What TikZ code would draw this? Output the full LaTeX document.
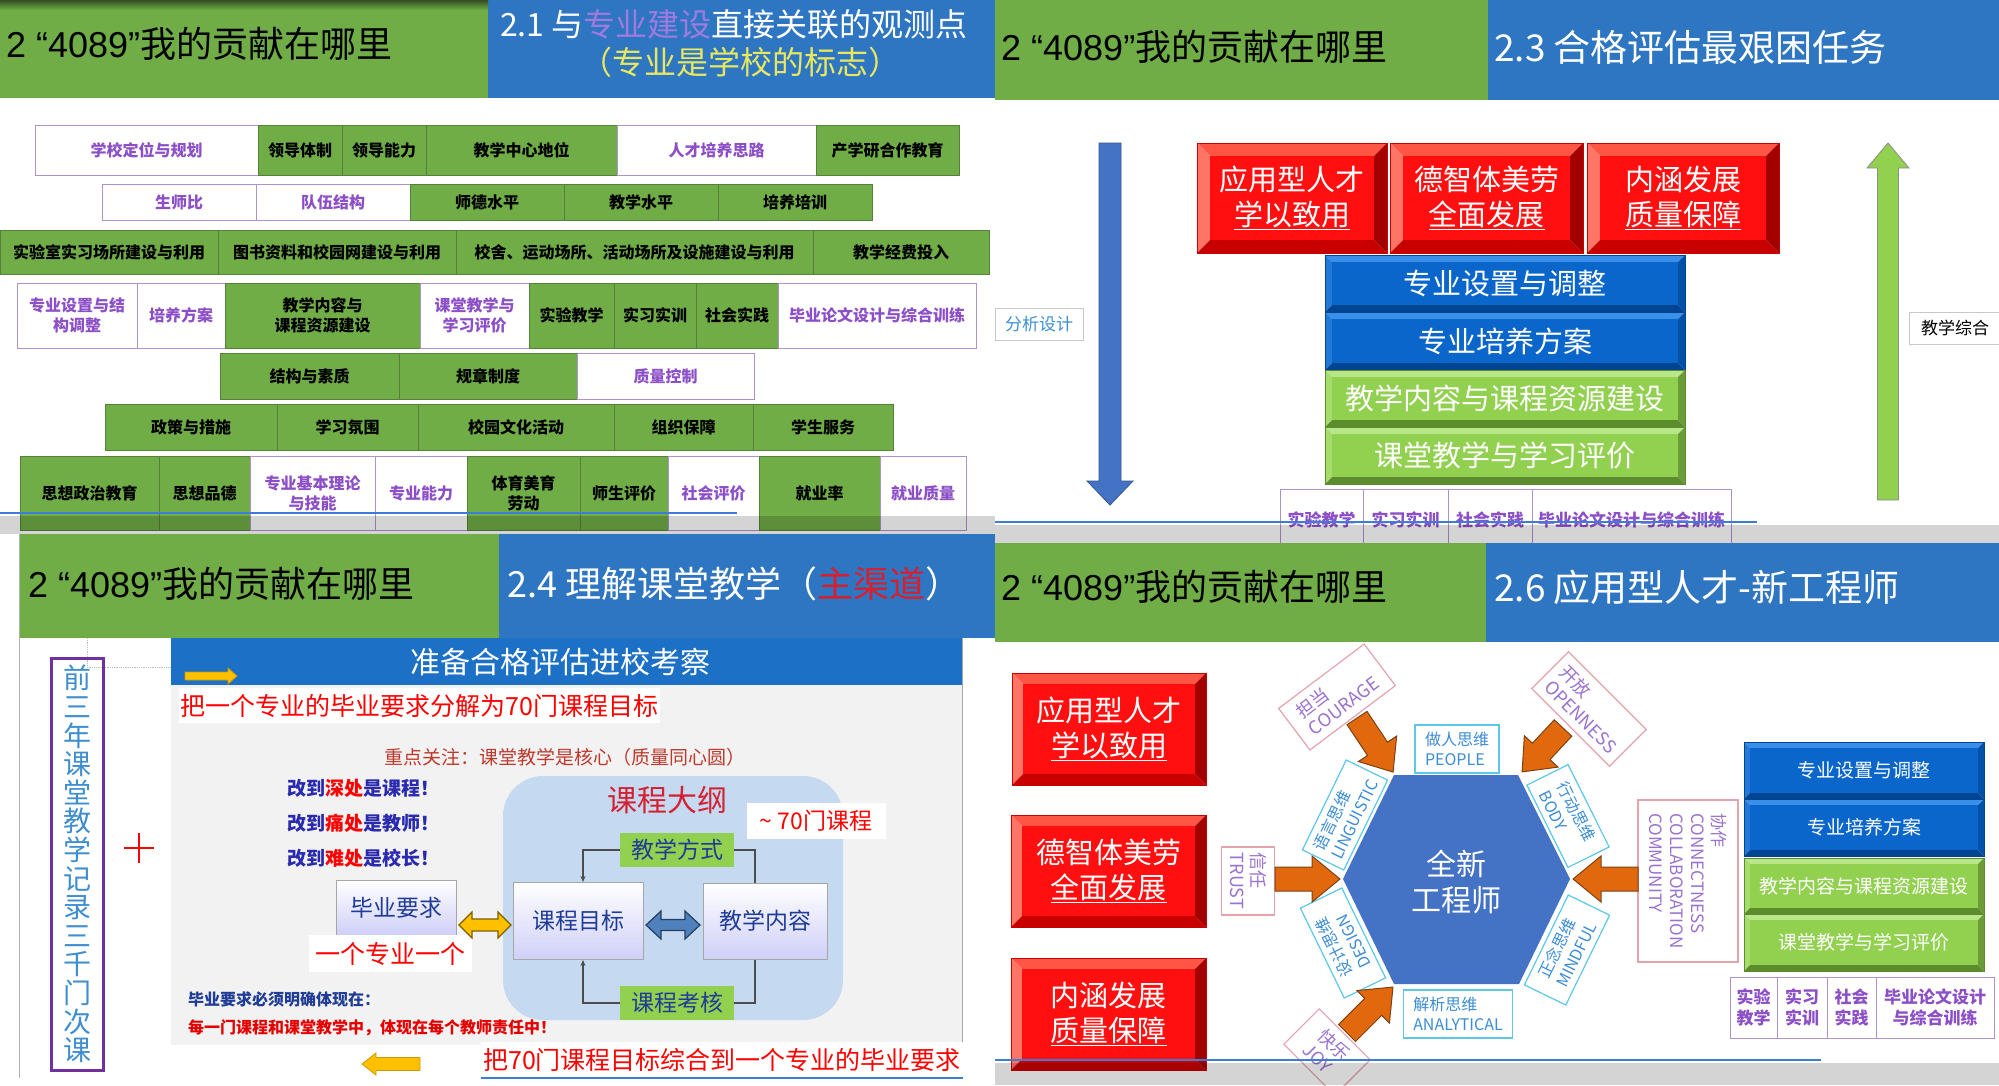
\documentclass[tikz,border=0pt]{standalone}
\usepackage{fontspec}
\setmainfont{Noto Sans CJK SC}
\newfontfamily\latf{Liberation Sans}
\usetikzlibrary{calc,arrows.meta}
\newcommand\fsz[2]{\fontsize{#1}{#2}\selectfont}
\definecolor{hgreen}{HTML}{70AD47}
\definecolor{hblue}{HTML}{2E75C2}
\definecolor{cgborder}{HTML}{55803A}
\definecolor{cwborder}{HTML}{AE92D0}
\definecolor{ptext}{HTML}{8C4FC8}
\definecolor{titlepurple}{HTML}{9F7BE0}
\definecolor{titleyellow}{HTML}{E8E860}
\definecolor{redF}{HTML}{FF0F0F}
\definecolor{redL}{HTML}{FF5545}
\definecolor{redS}{HTML}{FF7565}
\definecolor{redD}{HTML}{C80000}
\definecolor{redR}{HTML}{A30000}
\definecolor{bluF}{HTML}{0A66CA}
\definecolor{bluL}{HTML}{3A90E8}
\definecolor{bluS}{HTML}{2279D8}
\definecolor{bluD}{HTML}{004592}
\definecolor{bluR}{HTML}{0051A8}
\definecolor{grnF}{HTML}{92D050}
\definecolor{grnL}{HTML}{B9E688}
\definecolor{grnS}{HTML}{A6DC6C}
\definecolor{grnD}{HTML}{5C8C2D}
\definecolor{grnR}{HTML}{6C9C38}
\definecolor{orF}{HTML}{E2680E}
\definecolor{orD}{HTML}{7A4215}
\definecolor{goldF}{HTML}{FFC000}
\definecolor{goldD}{HTML}{7F6000}
\definecolor{stF}{HTML}{4F81BD}
\definecolor{stD}{HTML}{243F60}
\definecolor{hexblue}{HTML}{4472C4}
\definecolor{cyanb}{HTML}{5BC8E8}
\definecolor{cyant}{HTML}{3C8DD6}
\definecolor{pinkb}{HTML}{E5A3AE}
\definecolor{pinkt}{HTML}{9A72CF}
\definecolor{panelgray}{HTML}{F2F2F2}
\definecolor{bannerblue}{HTML}{1C70C6}
\definecolor{lightblue}{HTML}{C5D9F1}
\definecolor{darkred}{HTML}{C0392B}
\definecolor{navyt}{HTML}{2A2AB0}
\definecolor{flownavy}{HTML}{1F3C96}
\definecolor{lav}{HTML}{CFCFF8}
\definecolor{vtext}{HTML}{3E8ED0}
\definecolor{vpurple}{HTML}{7030A0}
\definecolor{kcred}{HTML}{D42030}
\definecolor{fgreen}{HTML}{92D050}
\definecolor{blueline}{HTML}{3B7DD8}
\definecolor{analyt}{HTML}{3D8FD8}
\tikzset{
 hl/.style={anchor=west, inner sep=0pt, font=\fsz{36}{40}, text=black},
 hr/.style={anchor=west, inner sep=0pt, font=\fsz{37}{42}, text=white},
 cg/.style={draw=cgborder, fill=hgreen, line width=1pt, inner sep=0pt, font=\fsz{16}{20}\bfseries, text=black, align=center},
 cw/.style={draw=cwborder, fill=white, line width=1pt, inner sep=0pt, font=\fsz{16}{20}\bfseries, text=ptext, align=center},
 cws/.style={cw, font=\fsz{17}{21}\bfseries},
 rtext/.style={text=white, font=\fsz{29}{35}, align=center, inner sep=0pt},
 btext/.style={text=white, font=\fsz{29}{33}, inner sep=0pt},
 stext/.style={text=white, font=\fsz{19}{22}, inner sep=0pt},
 oarrow/.style={fill=orF, draw=orD, line width=1pt},
 garrow/.style={fill=goldF, draw=goldF!80!black, line width=0.8pt},
 gdarrow/.style={fill=goldF, draw=goldD, line width=1.2pt},
 sdarrow/.style={fill=stF, draw=stD, line width=1.2pt},
 cyl/.style={draw=cyanb, line width=1.2pt, fill=white, text=cyant, font=\fsz{16}{20}, align=left, inner sep=0pt},
 pkl/.style={draw=pinkb, line width=1.2pt, fill=white, text=pinkt, font=\fsz{18}{21}, align=left, inner sep=0pt},
 flowbox/.style={draw=black!35, line width=1pt, top color=white, bottom color=lav, text=flownavy, font=\fsz{23}{26}, inner sep=0pt},
 flowgreen/.style={fill=fgreen, text=flownavy, font=\fsz{23}{26}, inner sep=0pt, minimum width=114, minimum height=34},
 redbox/.style={fill=white, text=red, inner sep=0pt},
 cline/.style={draw=black!70, line width=1.4pt},
 sidelabel/.style={draw=black!22, line width=1pt, fill=white, font=\fsz{17}{20}, inner sep=0pt, minimum height=32}
}
\newcommand\mkcell[7]{\node[#2, minimum width={(#4)-(#3)}, minimum height={(#6)-(#5)}] (#1) at ({((#3)+(#4))/2},{((#5)+(#6))/2}) {#7};}
\newcommand\bvbox[9]{%
 \fill[#7L] (#2,#3) -- (#4,#3) -- ({#4-#6},{#3+#6}) -- ({#2+#6},{#3+#6}) -- cycle;
 \fill[#7S] (#2,#3) -- ({#2+#6},{#3+#6}) -- ({#2+#6},{#5-#6}) -- (#2,#5) -- cycle;
 \fill[#7D] (#2,#5) -- ({#2+#6},{#5-#6}) -- ({#4-#6},{#5-#6}) -- (#4,#5) -- cycle;
 \fill[#7R] (#4,#3) -- (#4,#5) -- ({#4-#6},{#5-#6}) -- ({#4-#6},{#3+#6}) -- cycle;
 \fill[#7F] ({#2+#6},{#3+#6}) rectangle ({#4-#6},{#5-#6});
 \draw[#7D, line width=0.8pt] (#2,#3) rectangle (#4,#5);
 \node[#9] (#1) at ({(#2+#4)/2},{(#3+#5)/2}) {#8};}
\newcommand\blockarrow[8]{%
 \begin{scope}[shift={(#1,#2)}, rotate=#3]
 \path[#8] (0,{-#5/2}) -- ({#4-#7},{-#5/2}) -- ({#4-#7},{-#6/2}) -- (#4,0) -- ({#4-#7},{#6/2}) -- ({#4-#7},{#5/2}) -- (0,{#5/2}) -- cycle;
 \end{scope}}
\newcommand\dblarrow[8]{%
 \begin{scope}[shift={(#1,#2)}, rotate=#3]
 \path[#8] ({-#4/2},0) -- ({-#4/2+#7},{-#6/2}) -- ({-#4/2+#7},{-#5/2}) -- ({#4/2-#7},{-#5/2}) -- ({#4/2-#7},{-#6/2}) -- ({#4/2},0) -- ({#4/2-#7},{#6/2}) -- ({#4/2-#7},{#5/2}) -- ({-#4/2+#7},{#5/2}) -- ({-#4/2+#7},{#6/2}) -- cycle;
 \end{scope}}
\begin{document}
\begin{tikzpicture}[x=1pt,y=-1pt]
\useasboundingbox (0,0) rectangle (1999,1085);
\fill[white] (0,0) rectangle (1999,1085);

%%%%%%%%%%%%%%%% TOP-LEFT SLIDE
\fill[hgreen] (0,0) rectangle (488,98);
\fill[hblue] (488,0) rectangle (995,98);
\shade[top color=black!55!hgreen, bottom color=hgreen] (0,0) rectangle (488,10);
\node[hl] (tlh) at (6,44) {{\latf 2 “4089”}我的贡献在哪里};
\node[inner sep=0pt, font=\fsz{32}{36}, text=white] (tlt1) at (734,24) {2.1 与\textcolor{titlepurple}{专业建设}直接关联的观测点};
\node[inner sep=0pt, font=\fsz{32}{36}, text=titleyellow] (tlt2) at (740,62) {（专业是学校的标志）};
% row 1
\mkcell{a1}{cw}{35}{258}{125}{175}{学校定位与规划}
\mkcell{a2}{cg}{258}{342}{125}{175}{领导体制}
\mkcell{a3}{cg}{342}{426}{125}{175}{领导能力}
\mkcell{a4}{cg}{426}{617}{125}{175}{教学中心地位}
\mkcell{a5}{cw}{617}{816}{125}{175}{人才培养思路}
\mkcell{a6}{cg}{816}{959}{125}{175}{产学研合作教育}
% row 2
\mkcell{b1}{cw}{102}{256}{184}{220}{生师比}
\mkcell{b2}{cw}{256}{410}{184}{220}{队伍结构}
\mkcell{b3}{cg}{410}{564}{184}{220}{师德水平}
\mkcell{b4}{cg}{564}{718}{184}{220}{教学水平}
\mkcell{b5}{cg}{718}{872}{184}{220}{培养培训}
% row 3
\mkcell{c1}{cg}{0}{218}{230}{274}{实验室实习场所建设与利用}
\mkcell{c2}{cg}{218}{456}{230}{274}{图书资料和校园网建设与利用}
\mkcell{c3}{cg}{456}{813}{230}{274}{校舍、运动场所、活动场所及设施建设与利用}
\mkcell{c4}{cg}{813}{989}{230}{274}{教学经费投入}
% row 4
\mkcell{d1}{cw}{17}{137}{283}{348}{专业设置与结\\构调整}
\mkcell{d2}{cw}{137}{225}{283}{348}{培养方案}
\mkcell{d3}{cg}{225}{420}{283}{348}{教学内容与\\课程资源建设}
\mkcell{d4}{cw}{420}{529}{283}{348}{课堂教学与\\学习评价}
\mkcell{d5}{cg}{529}{614}{283}{348}{实验教学}
\mkcell{d6}{cg}{614}{696}{283}{348}{实习实训}
\mkcell{d7}{cg}{696}{778}{283}{348}{社会实践}
\mkcell{d8}{cw}{778}{976}{283}{348}{毕业论文设计与综合训练}
% row 5
\mkcell{e1}{cg}{220}{399}{353}{399}{结构与素质}
\mkcell{e2}{cg}{399}{577}{353}{399}{规章制度}
\mkcell{e3}{cw}{577}{754}{353}{399}{质量控制}
% row 6
\mkcell{f1}{cg}{105}{277}{404}{450}{政策与措施}
\mkcell{f2}{cg}{277}{418}{404}{450}{学习氛围}
\mkcell{f3}{cg}{418}{614}{404}{450}{校园文化活动}
\mkcell{f4}{cg}{614}{753}{404}{450}{组织保障}
\mkcell{f5}{cg}{753}{893}{404}{450}{学生服务}
% row 7
\mkcell{g1}{cg}{20}{159}{456}{530}{思想政治教育}
\mkcell{g2}{cg}{159}{250}{456}{530}{思想品德}
\mkcell{g3}{cw}{250}{375}{456}{530}{专业基本理论\\与技能}
\mkcell{g4}{cw}{375}{467}{456}{530}{专业能力}
\mkcell{g5}{cg}{467}{580}{456}{530}{体育美育\\劳动}
\mkcell{g6}{cg}{580}{668}{456}{530}{师生评价}
\mkcell{g7}{cw}{668}{759}{456}{530}{社会评价}
\mkcell{g8}{cg}{759}{880}{456}{530}{就业率}
\mkcell{g9}{cw}{880}{966}{456}{530}{就业质量}
\draw[blueline, line width=2.5pt] (0,513) -- (737,513);
\fill[black, opacity=0.17] (0,516) rectangle (995,534);

%%%%%%%%%%%%%%%% TOP-RIGHT SLIDE
\fill[hgreen] (995,0) rectangle (1488,100);
\fill[hblue] (1488,0) rectangle (1999,100);
\node[hl] (trh) at (1001,47) {{\latf 2 “4089”}我的贡献在哪里};
\node[hr] (trt) at (1494,47) {2.3 合格评估最艰困任务};
\blockarrow{1110}{143}{-90}{362}{22}{46}{24}{fill=hexblue, draw=hexblue!75!black, line width=0.8pt}
\blockarrow{1888}{500}{90}{357}{21}{42}{25}{fill=grnF, draw=black!45, line width=0.8pt}
\node[sidelabel, text=analyt, minimum width=88] (fxsj) at (1039,324) {分析设计};
\node[sidelabel, text=black, minimum width=92] (jxzh) at (1955,328) {教学综合};
\bvbox{r1}{1197}{143}{1387}{253}{13}{red}{应用型人才\\\underline{学以致用}}{rtext}
\bvbox{r2}{1390}{143}{1583}{253}{13}{red}{德智体美劳\\\underline{全面发展}}{rtext}
\bvbox{r3}{1587}{143}{1779}{253}{13}{red}{内涵发展\\\underline{质量保障}}{rtext}
\bvbox{tb1}{1325}{255}{1685}{312}{7}{blu}{专业设置与调整}{btext}
\bvbox{tb2}{1325}{312}{1685}{370}{7}{blu}{专业培养方案}{btext}
\bvbox{tg1}{1325}{370}{1685}{427}{7}{grn}{教学内容与课程资源建设}{btext}
\bvbox{tg2}{1325}{427}{1685}{484}{7}{grn}{课堂教学与学习评价}{btext}
\mkcell{t1}{cws}{1280}{1363}{489}{550}{实验教学}
\mkcell{t2}{cws}{1363}{1448}{489}{550}{实习实训}
\mkcell{t3}{cws}{1448}{1532}{489}{550}{社会实践}
\mkcell{t4}{cws}{1532}{1731}{489}{550}{毕业论文设计与综合训练}
\draw[blueline, line width=2.5pt] (995,522) -- (1757,522);
\fill[black, opacity=0.17] (995,525) rectangle (1999,543);

%%%%%%%%%%%%%%%% BOTTOM-LEFT SLIDE
\fill[white] (0,534) rectangle (995,1085);
\draw[black!30, line width=1pt] (19,534) -- (19,1078);
\fill[hgreen] (20,534) rectangle (499,638);
\fill[hblue] (499,534) rectangle (995,638);
\node[hl] (blh) at (28,584) {{\latf 2 “4089”}我的贡献在哪里};
\node[hr, font=\fsz{36}{40}] (blt) at (507,584) {2.4 理解课堂教学（\textcolor{kcred}{主渠道}）};
\draw[black!25, line width=0.8pt, densely dotted] (87,638) -- (87,667) -- (171,667);
\draw[vpurple, line width=3pt] (51,658) rectangle (103,1070);
\node[text=vtext, font=\fsz{28}{28.6}, align=center, inner sep=0pt] (vert) at (77,864) {前\\三\\年\\课\\堂\\教\\学\\记\\录\\三\\千\\门\\次\\课};
\draw[red, line width=2.5pt] (139,833) -- (139,863) (124,848) -- (154,848);
\fill[panelgray] (171,685) rectangle (962,1045);
\draw[black!35, line width=1pt] (962,638) -- (962,1045);
\fill[bannerblue] (171,638) rectangle (962,685);
\node[text=white, font=\fsz{30}{34}, inner sep=0pt] (banner) at (560,662) {准备合格评估进校考察};
\blockarrow{185}{676}{0}{52}{8}{16}{9}{garrow}
\node[redbox, font=\fsz{25}{28}, minimum width=481, minimum height=35] (split) at (419.5,705.5) {把一个专业的毕业要求分解为70门课程目标};
\node[text=darkred, font=\fsz{19}{22}, inner sep=0pt] (focus) at (565,757) {重点关注：课堂教学是核心（质量同心圆）};
\node[anchor=west, text=navyt, font=\fsz{19}{22}\bfseries, inner sep=0pt] (gd1) at (287,788) {改到\textcolor{red}{深处}是课程！};
\node[anchor=west, text=navyt, font=\fsz{19}{22}\bfseries, inner sep=0pt] (gd2) at (287,823) {改到\textcolor{red}{痛处}是教师！};
\node[anchor=west, text=navyt, font=\fsz{19}{22}\bfseries, inner sep=0pt] (gd3) at (287,858) {改到\textcolor{red}{难处}是校长！};
\fill[lightblue, rounded corners=40pt] (503,776) rectangle (843,1020);
\node[text=kcred, font=\fsz{30}{34}, inner sep=0pt] (kcdg) at (667,800) {课程大纲};
\node[redbox, font=\fsz{23}{26}, minimum width=139, minimum height=36] (qty) at (816,821) {\textasciitilde\ 70门课程};
\node[flowgreen] (jxfs) at (677,850) {教学方式};
\node[flowgreen] (kckh) at (677,1003) {课程考核};
\node[flowbox, minimum width=130, minimum height=77] (kcmb) at (578,921) {课程目标\hspace{12pt}};
\node[flowbox, minimum width=124, minimum height=76] (jxnr) at (765,921) {教学内容\hspace{12pt}};
\node[flowbox, minimum width=120, minimum height=55] (byyq) at (396,907.5) {毕业要求\hspace{10pt}};
\node[redbox, font=\fsz{25}{28}, minimum width=163, minimum height=37] (onemaj) at (390.5,953.5) {一个专业一个};
\draw[cline, -{Stealth[length=6pt,width=5pt]}] (jxfs.west) -| ($(kcmb.north)+(5,0)$);
\draw[cline] (jxfs.east) -| ($(jxnr.north)+(-10,0)$);
\draw[cline, -{Stealth[length=6pt,width=5pt]}] (kckh.west) -| ($(kcmb.south)+(5,0)$);
\draw[cline] (kckh.east) -| ($(jxnr.south)+(-10,0)$);
\dblarrow{485}{925}{0}{52}{12}{26}{13}{gdarrow}
\dblarrow{673}{925}{0}{54}{11}{28}{15}{sdarrow}
\node[anchor=west, text=flownavy, font=\fsz{16}{19}\bfseries, inner sep=0pt] (must) at (188,999) {毕业要求必须明确体现在：};
\node[anchor=west, text=red!90!black, font=\fsz{16}{19}\bfseries, inner sep=0pt] (each) at (188,1028) {每一门课程和课堂教学中，体现在每个教师责任中！};
\blockarrow{420}{1064}{180}{58}{13}{22}{14}{garrow}
\node[redbox, font=\fsz{25}{28}, minimum width=482, minimum height=36] (merge) at (722,1060) {把70门课程目标综合到一个专业的毕业要求};
\draw[blueline, line width=2pt] (481,1078) -- (963,1078);

%%%%%%%%%%%%%%%% BOTTOM-RIGHT SLIDE
\fill[hgreen] (995,543) rectangle (1486,642);
\fill[hblue] (1486,543) rectangle (1999,642);
\node[hl] (brh) at (1001,587) {{\latf 2 “4089”}我的贡献在哪里};
\node[hr] (brt) at (1494,587) {2.6 应用型人才-新工程师};
\bvbox{rr1}{1012}{673}{1206}{785}{11}{red}{应用型人才\\\underline{学以致用}}{rtext}
\bvbox{rr2}{1011}{815}{1206}{927}{11}{red}{德智体美劳\\\underline{全面发展}}{rtext}
\bvbox{rr3}{1011}{958}{1206}{1070}{11}{red}{内涵发展\\\underline{质量保障}}{rtext}
% hexagon
\fill[hexblue] (1394,775) -- (1518,775) -- (1570,879) -- (1519,984) -- (1394,984) -- (1343,879) -- cycle;
\node[text=white, font=\fsz{30}{36}, align=center, inner sep=0pt] (hex) at (1456,882) {全新\\工程师};
\node[cyl, minimum width=84, minimum height=48] (people) at (1457,749) {做人思维\\PEOPLE};
\node[cyl, minimum width=109, minimum height=48] (analytical) at (1458,1014) {解析思维\\ANALYTICAL};
\node[cyl, minimum width=100, minimum height=46, rotate=64] (linguistic) at (1345,815) {语言思维\\LINGUISTIC};
\node[cyl, minimum width=100, minimum height=46, rotate=116] (design) at (1343,943) {设计思维\\DESIGN};
\node[cyl, minimum width=92, minimum height=46, rotate=-63.5] (body) at (1568,816) {行动思维\\BODY};
\node[cyl, minimum width=100, minimum height=46, rotate=64] (mindful) at (1567,950) {正念思维\\MINDFUL};
\node[pkl, minimum width=107, minimum height=52, rotate=37] (courage) at (1337,697) {担当\\COURAGE};
\node[pkl, minimum width=110, minimum height=52, rotate=-45] (openness) at (1589,709) {开放\\OPENNESS};
\node[pkl, minimum width=68, minimum height=53, rotate=-90] (trust) at (1248,881) {信任\\TRUST};
\node[pkl, minimum width=162, minimum height=100, rotate=-90, font=\fsz{17}{21}] (community) at (1688,881) {协作\\CONNECTNESS\\COLLABORATION\\COMMUNITY};
\node[pkl, minimum width=72, minimum height=50, rotate=-45] (joy) at (1327,1052) {快乐\\JOY};
\blockarrow{1357}{718}{-56.3}{65}{24}{46}{28}{oarrow}
\blockarrow{1563}{728}{-133}{60}{24}{46}{28}{oarrow}
\blockarrow{1275}{879}{0}{65}{24}{46}{28}{oarrow}
\blockarrow{1638}{879}{180}{65}{24}{46}{28}{oarrow}
\blockarrow{1347}{1033}{45}{65}{24}{46}{28}{oarrow}
% right stack
\bvbox{sb1}{1744}{742}{1984}{799}{6}{blu}{专业设置与调整}{stext}
\bvbox{sb2}{1744}{799}{1984}{856}{6}{blu}{专业培养方案}{stext}
\bvbox{sg1}{1744}{858}{1984}{914}{6}{grn}{教学内容与课程资源建设}{stext}
\bvbox{sg2}{1744}{914}{1984}{971}{6}{grn}{课堂教学与学习评价}{stext}
\mkcell{u1}{cws}{1730}{1777}{977}{1038}{实验\\教学}
\mkcell{u2}{cws}{1777}{1827}{977}{1038}{实习\\实训}
\mkcell{u3}{cws}{1827}{1876}{977}{1038}{社会\\实践}
\mkcell{u4}{cws}{1876}{1994}{977}{1038}{毕业论文设计\\与综合训练}
\draw[blueline, line width=2.5pt] (995,1060) -- (1821,1060);
\fill[black, opacity=0.17] (995,1063) rectangle (1999,1085);
\end{tikzpicture}
\end{document}
